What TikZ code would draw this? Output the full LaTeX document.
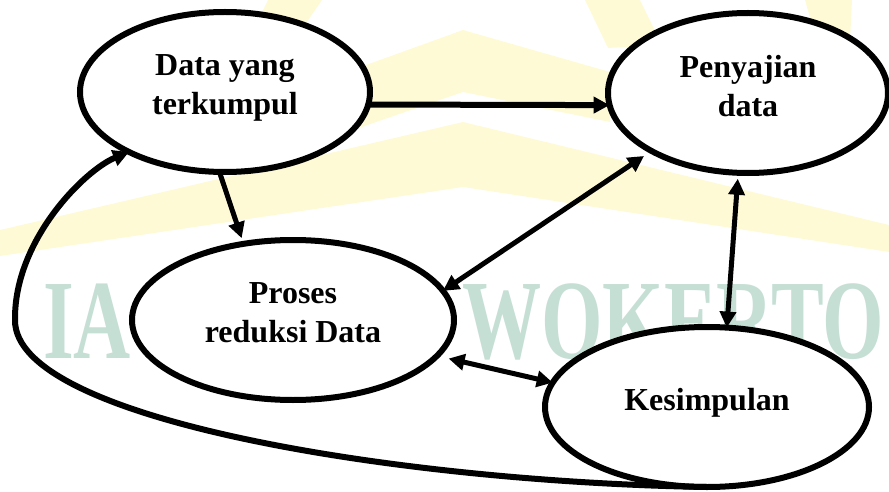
\documentclass[tikz,border=0pt]{standalone}
\usepackage{graphicx}
\usepackage{fontspec}
\setmainfont{Liberation Serif}
\usetikzlibrary{arrows.meta,shapes.geometric}
\definecolor{wmteal}{RGB}{198,223,213}
\definecolor{wmyellow}{RGB}{255,250,214}
\newcommand{\lowpad}{\rule[-15pt]{0pt}{0pt}}
\begin{document}
\begin{tikzpicture}[x=1pt,y=-1pt,
  bubble/.style={ellipse, draw, line width=6pt, fill=white, inner sep=0pt, outer sep=0pt,
    align=center, font=\fontsize{32}{39}\selectfont\bfseries},
  wm/.style={inner sep=0pt, outer sep=0pt, text=wmteal, font=\fontsize{113}{113}\selectfont\bfseries},
  tipA/.tip={Triangle[length=16pt,width=16pt]},
  conn/.style={line width=5pt, -tipA},
  dconn/.style={line width=5pt, tipA-tipA},
]
\useasboundingbox (0,0) rectangle (889,492);
% faint watermark
\fill[wmyellow] (330,78) -- (463,30) -- (610,72) -- (610,122) -- (463,92) -- (330,138) -- cycle;
\fill[wmyellow] (0,230) -- (463,122) -- (889,225) -- (889,252) -- (463,187) -- (0,256) -- cycle;
\fill[wmyellow] (268,0) -- (322,0) -- (300,32) -- (250,36) -- cycle;
\fill[wmyellow] (585,0) -- (640,0) -- (662,45) -- (608,48) -- cycle;
\fill[wmyellow] (805,0) -- (852,0) -- (850,42) -- (818,46) -- cycle;
\node[wm, anchor=base west] (wmA) at (43,358) {\scalebox{0.7}[1]{IA}};
\node[wm, anchor=base west] (wmB) at (462,358) {\scalebox{0.7}[1]{WOKERTO}};
% nodes
\node[bubble, minimum width=290pt, minimum height=160pt] (e1) at (225,92) {Data yang\\terkumpul\lowpad};
\node[bubble, minimum width=280pt, minimum height=160pt] (e2) at (748,93) {Penyajian\\data\lowpad};
\node[bubble, minimum width=322pt, minimum height=160pt] (e3) at (293,320) {Proses\\reduksi Data\lowpad};
\node[bubble, minimum width=324pt, minimum height=160pt] (e4) at (707,407) {Kesimpulan\lowpad};
\coordinate (cL) at (15,320);
% connectors
\draw[conn, line width=6pt] (e1.-5) -- (e2.185);
\draw[conn, shorten >=6pt] (e1.266) -- (e3.123.5);
\draw[dconn, shorten <=9pt] (e2.211) -- (e3.11);
\draw[dconn, shorten <=6pt] (e2.263.4) -- (e4.76.3);
\draw[dconn, shorten <=12pt] (e3.-14) -- (e4.171.5);
\draw[line width=6pt, -tipA] (e4.south) .. controls (400,482) and (14,420) .. (cL)
  .. controls (14,240) and (85,170) .. (e1.212);
\end{tikzpicture}
\end{document}
